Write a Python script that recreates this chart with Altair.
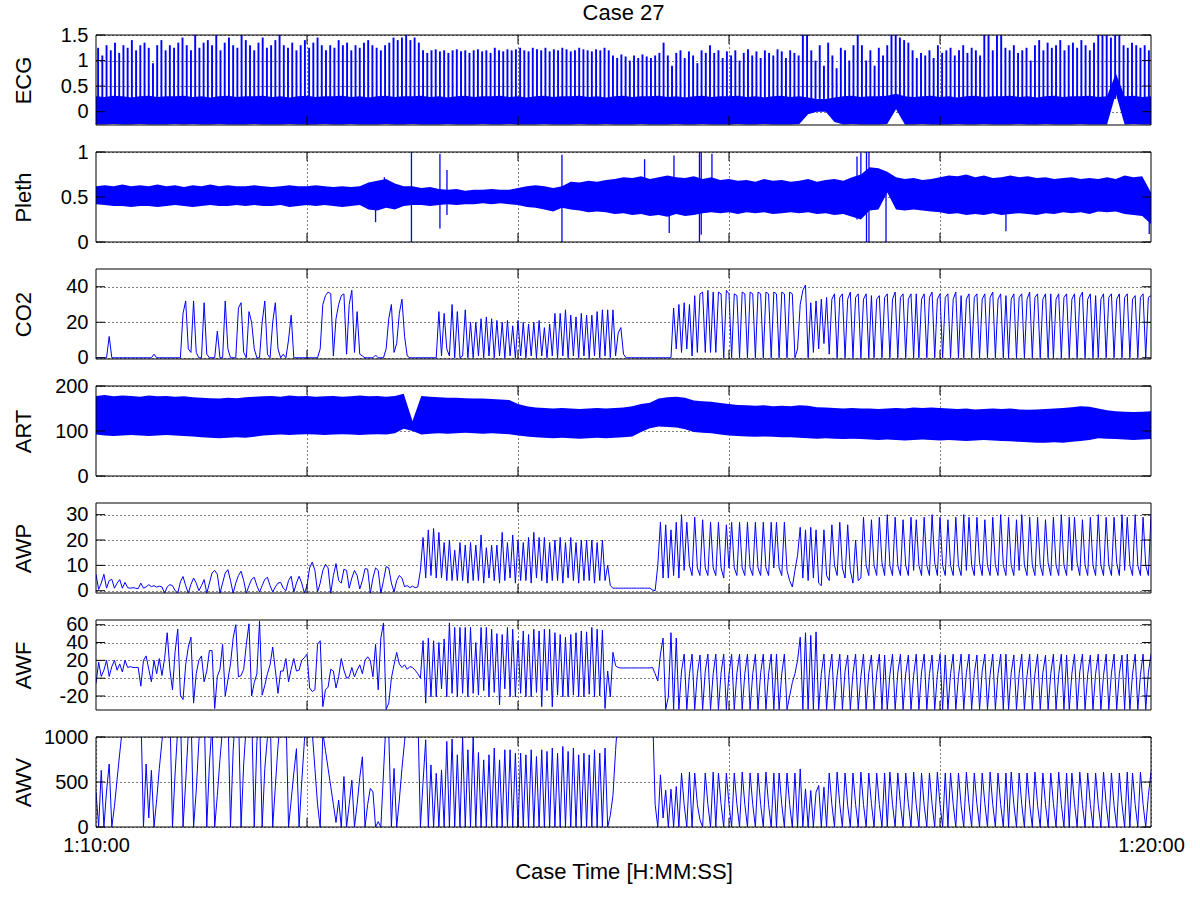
import altair as alt
import pandas as pd

FONT = "Liberation Sans"
BLUE = "#0000ff"
W, H = 1055, 90
T_END = 600
GRID_T = [120, 240, 360, 480]
X_TICKS = [0, 120, 240, 360, 480, 600]

# ---------------- axis limits and tick values ----------------
ECG_DOMAIN, ECG_TICKS = [-0.26, 1.5], [0, 0.5, 1, 1.5]
PLETH_DOMAIN, PLETH_TICKS = [0, 1], [0, 0.5, 1]
CO2_DOMAIN, CO2_TICKS = [-0.7, 50], [0, 20, 40]
ART_DOMAIN, ART_TICKS = [0, 200], [0, 100, 200]
AWP_DOMAIN, AWP_TICKS = [-0.9, 34.6], [0, 10, 20, 30]
AWF_DOMAIN, AWF_TICKS = [-35.7, 65.3], [-20, 0, 20, 40, 60]
AWV_DOMAIN, AWV_TICKS = [0, 1000], [0, 500, 1000]

# ---------------- ECG: body band (every 5 s) and R-peaks ----------------
ECG_LO = [
    -0.25,-0.25,-0.24,-0.25,-0.25,-0.24,-0.25,-0.25,-0.25,-0.24,
    -0.25,-0.24,-0.25,-0.25,-0.24,-0.25,-0.25,-0.25,-0.24,-0.25,
    -0.25,-0.25,-0.24,-0.25,-0.25,-0.25,-0.24,-0.25,-0.25,-0.24,
    -0.25,-0.25,-0.25,-0.24,-0.25,-0.25,-0.24,-0.25,-0.25,-0.25,
    -0.24,-0.25,-0.25,-0.25,-0.24,-0.25,-0.25,-0.24,-0.25,-0.25,
    -0.25,-0.24,-0.25,-0.25,-0.25,-0.24,-0.25,-0.25,-0.24,-0.25,
    -0.25,-0.25,-0.24,-0.25,-0.25,-0.25,-0.24,-0.25,-0.25,-0.24,
    -0.25,-0.25,-0.25,-0.24,-0.25,-0.25,-0.24,-0.25,-0.25,-0.25,
    -0.24,-0.05,0.0,0.0,-0.2,-0.25,-0.24,-0.25,-0.25,-0.25,
    -0.24,0.05,-0.25,-0.25,-0.24,-0.25,-0.25,-0.25,-0.24,-0.25,
    -0.25,-0.24,-0.25,-0.25,-0.25,-0.24,-0.25,-0.25,-0.24,-0.25,
    -0.25,-0.25,-0.24,-0.25,-0.25,-0.25,0.35,-0.25,-0.24,-0.25,
    -0.25]
ECG_HI = [
    0.30,0.29,0.31,0.30,0.28,0.30,0.31,0.29,0.30,0.30,
    0.31,0.29,0.30,0.28,0.30,0.31,0.29,0.30,0.30,0.31,
    0.29,0.30,0.28,0.30,0.31,0.29,0.30,0.30,0.31,0.29,
    0.30,0.28,0.30,0.31,0.29,0.30,0.30,0.31,0.29,0.30,
    0.28,0.30,0.31,0.29,0.30,0.30,0.31,0.29,0.30,0.28,
    0.30,0.31,0.29,0.30,0.30,0.31,0.29,0.30,0.28,0.30,
    0.31,0.29,0.30,0.30,0.31,0.29,0.30,0.28,0.30,0.31,
    0.29,0.30,0.30,0.31,0.29,0.30,0.28,0.30,0.31,0.29,
    0.30,0.28,0.25,0.25,0.28,0.30,0.31,0.29,0.30,0.30,
    0.31,0.35,0.30,0.29,0.30,0.31,0.29,0.30,0.28,0.30,
    0.31,0.29,0.30,0.30,0.31,0.29,0.30,0.28,0.30,0.31,
    0.29,0.30,0.30,0.31,0.29,0.30,0.75,0.30,0.31,0.29,
    0.30]
ECG_PEAKS = [
    1.25,1.1,1.3,1.2,1.35,1.15,1.3,1.25,1.4,1.2,
    1.3,1.35,1.25,0.95,1.3,1.4,1.2,1.3,1.25,1.35,
    1.45,1.3,1.2,1.5,1.25,1.35,1.4,1.3,1.5,1.2,
    1.35,1.45,1.3,1.25,1.5,1.4,1.3,1.2,1.35,1.45,
    1.25,1.3,1.4,1.5,1.3,1.25,1.35,1.2,1.3,1.4,
    1.25,1.35,1.45,1.3,1.2,1.3,1.25,1.4,1.3,1.35,
    1.2,1.3,1.25,1.35,1.4,1.3,1.25,1.2,1.3,1.35,
    1.45,1.4,
    1.45,1.5,1.4,1.45,1.35,
    1.2,1.15,1.2,1.22,1.18,1.2,1.15,1.2,1.22,1.18,1.2,1.15,1.2,1.22,1.18,1.2,1.15,1.25,1.2,1.18,1.22,1.2,
    1.22,1.25,1.2,1.18,1.25,1.22,1.2,1.25,1.18,1.22,1.2,1.25,1.22,1.18,1.2,1.25,1.22,1.2,1.18,1.22,1.2,1.25,1.2,
    1.1,1.05,1.12,1.08,1.0,1.1,1.05,1.12,1.08,1.05,1.1,
    1.15,1.35,1.1,0.9,1.15,1.2,1.05,1.18,1.1,0.95,1.2,1.15,1.3,
    1.15,1.2,1.05,1.18,1.1,1.2,1.0,1.15,1.22,1.1,1.18,1.05,1.2,1.15,1.1,1.22,1.18,1.05,1.2,1.15,1.1,
    1.5,1.5,1.2,1.0,1.3,0.9,
    1.35,1.1,0.85,1.25,1.2,1.0,1.3,
    1.5,
    1.3,1.0,1.2,0.9,1.25,1.1,1.3,
    1.5,1.5,1.45,
    1.4,1.35,
    1.2,1.05,1.15,1.1,1.2,1.05,
    1.3,1.15,1.2,1.25,1.1,1.2,1.3,1.15,1.25,1.2,1.1,
    1.5,1.5,1.2,1.5,1.5,
    1.25,1.2,1.3,1.15,1.2,1.25,
    1.0,1.3,1.4,1.2,1.35,1.25,1.3,1.4,1.2,1.3,1.35,1.25,1.4,1.3,1.2,1.35,
    1.5,1.5,1.5,1.45,1.5,1.5,
    1.3,1.25,1.35,1.3,1.25,1.3,1.2]
ECG_SPIKE_BASE = 0.25

# ---------------- Pleth: band (every 5 s) and isolated spikes ----------------
PL_LO = [
    0.42,0.41,0.40,0.40,0.39,0.40,0.40,0.39,0.40,0.41,
    0.40,0.39,0.40,0.41,0.40,0.40,0.41,0.40,0.41,0.40,
    0.40,0.41,0.39,0.40,0.41,0.40,0.41,0.40,0.39,0.40,
    0.41,0.36,0.35,0.38,0.36,0.40,0.41,0.41,0.40,0.41,
    0.42,0.41,0.42,0.42,0.43,0.42,0.43,0.42,0.41,0.39,
    0.38,0.36,0.34,0.38,0.36,0.35,0.33,0.34,0.33,0.31,
    0.32,0.30,0.31,0.29,0.30,0.28,0.31,0.29,0.30,0.32,
    0.33,0.32,0.33,0.31,0.33,0.32,0.33,0.31,0.32,0.33,
    0.32,0.33,0.31,0.32,0.30,0.31,0.28,0.25,0.35,0.36,
    0.55,0.36,0.35,0.36,0.35,0.34,0.33,0.31,0.32,0.30,
    0.31,0.30,0.32,0.30,0.31,0.32,0.31,0.30,0.32,0.31,
    0.33,0.32,0.33,0.31,0.34,0.33,0.34,0.31,0.30,0.29,
    0.20]
PL_HI = [
    0.62,0.63,0.62,0.64,0.62,0.63,0.62,0.64,0.62,0.63,
    0.61,0.63,0.62,0.64,0.62,0.63,0.62,0.62,0.63,0.62,
    0.61,0.62,0.63,0.62,0.62,0.63,0.62,0.61,0.62,0.61,
    0.62,0.66,0.68,0.70,0.65,0.62,0.62,0.60,0.61,0.59,
    0.58,0.59,0.57,0.58,0.58,0.59,0.58,0.58,0.60,0.62,
    0.63,0.62,0.60,0.62,0.67,0.66,0.68,0.67,0.69,0.70,
    0.72,0.71,0.73,0.70,0.72,0.74,0.72,0.71,0.73,0.70,
    0.72,0.69,0.70,0.68,0.69,0.67,0.70,0.68,0.69,0.67,
    0.68,0.70,0.67,0.69,0.70,0.68,0.72,0.75,0.83,0.82,
    0.78,0.72,0.70,0.71,0.69,0.70,0.72,0.74,0.73,0.75,
    0.72,0.74,0.71,0.72,0.74,0.72,0.73,0.71,0.72,0.70,
    0.71,0.72,0.70,0.71,0.70,0.72,0.70,0.74,0.72,0.73,
    0.55]
PL_SPK_T = [159, 164, 179.4, 195.6, 199.6, 265, 312, 326, 328.7, 343.2, 344.2,
            350.3, 432.8, 435, 438.2, 439.6, 449.3, 517.5, 599]
PL_SPK_LO = [0.22, 0.4, 0.0, 0.15, 0.3, 0.0, 0.4, 0.1, 0.4, 0.0, 0.08,
             0.35, 0.25, 0.35, 0.0, 0.0, 0.0, 0.12, 0.09]
PL_SPK_HI = [0.55, 0.72, 1.0, 0.98, 0.8, 0.97, 0.92, 0.6, 0.96, 1.0, 1.0,
             0.98, 0.95, 0.99, 1.0, 1.0, 0.6, 0.5, 0.4]

# ---------------- CO2 (every 1.5 s) ----------------
CO2 = [
    0,0,0,0,0,12,0,0,0,0,
    0,0,0,0,0,0,0,0,0,0,
    0,0,2,0,0,0,0,0,0,0,
    0,0,0,25,32,5,3,32,3,0,
    0,31,2,0,0,0,15,0,0,32,
    5,0,0,0,28,31,3,0,26,20,
    5,0,0,20,32,2,0,20,31,5,
    0,2,0,10,24,0,0,0,0,0,
    0,0,0,0,0,5,30,35,37,36,
    1,22,30,35,36,2,30,38,3,26,
    2,1,0,0,0,0,1.5,0,0,0,
    5,22,30,3,8,25,33,12,1,0,
    0,0,0,0,0,0,0,0,0,0,
    26,1,25,5,1,30,0,26,0,1,
    27,0,20,0,20,1,22,0,23,1,
    22,0,21,1,20,0,21,1,18,0,
    21,1,20,0,19,1,20,0,21,1,
    17,0,19,1,25,0,25,1,27,0,
    24,1,23,0,25,1,24,0,24,1,
    26,0,27,1,27,0,27,1,14,17,
    2,0,0,0,0,0,0,0,0,0,
    0,0,0,0,0,0,0,0,0,28,
    5,30,3,31,5,30,1,35,3,36,
    37,3,38,3,37,3,37,36,0,38,
    36,0,36,35,0,37,36,0,37,36,
    0,37,36,0,37,36,0,37,36,0,
    37,36,0,37,36,0,5,30,38,41,
    0,31,3,32,5,33,8,34,2,
    33,36,0,34,36,0,33,37,0,34,36,0,33,36,0,35,0,
    33,35,0,34,36,0,33,37,0,34,36,0,33,36,0,36,0,
    33,36,0,34,37,0,33,36,0,34,36,0,33,37,0,35,0,
    33,36,0,34,36,0,33,36,0,34,37,0,33,36,0,35,0,
    33,36,0,34,36,0,33,37,0,34,36,0,33,36,0,36,0,
    33,36,0,34,36,0,33,36,0,34,37,0,33,36,0,35,0,
    33,36,0,34,36,0,33,36,0,34,36,0,33,35,0,34,36,0,34,35]

# ---------------- ART: band (every 5 s) ----------------
ART_LO = [
    92,90,89,90,91,90,89,90,91,90,
    89,88,86,85,84,85,86,85,87,90,
    91,92,91,92,93,92,91,92,93,92,
    91,92,93,92,95,105,100,92,94,95,
    94,95,96,95,94,95,94,93,90,88,
    86,85,84,85,84,83,84,85,84,85,
    86,88,98,106,110,109,108,104,98,96,
    95,92,90,89,88,87,88,87,86,86,
    85,84,83,84,83,82,83,82,81,80,
    81,80,79,80,81,80,79,80,79,78,
    79,80,79,78,77,76,75,74,74,75,
    74,76,78,80,84,83,82,81,80,81,
    82]
ART_HI = [
    178,180,177,179,178,176,179,177,178,176,
    177,175,174,173,172,174,173,175,176,177,
    178,176,179,177,178,176,177,178,176,177,
    179,177,178,176,178,183,122,178,176,175,
    174,174,173,172,172,171,170,169,160,155,
    152,151,150,151,150,149,150,151,150,151,
    152,155,160,163,172,175,176,174,168,166,
    165,162,160,158,157,156,157,155,156,155,
    157,156,153,152,151,150,151,150,150,149,
    150,151,150,152,151,152,151,150,149,150,
    148,149,150,149,150,148,147,148,149,150,
    151,153,155,154,150,146,144,143,142,143,
    144]

# ---------------- AWP (every 1.5 s) ----------------
AWP = [
    6.5,0.5,3,6.5,1,4,4.5,1,3,4.4,
    1,3.3,1.2,1,1.2,1,0.8,3,1,1.5,
    2.4,1.6,2,1.4,1.8,1.5,-1,1.5,2.4,2,
    0,-1,3.5,5.6,2,-1,2.5,5,3,0,
    2,4.4,-1,3,7,8,6.5,-1,3,7,
    8.3,4,-1,3,6,7.7,4,-1,2,4.5,
    5.3,2,-0.5,2,4.5,5.3,2,-0.5,1.5,3,
    3.3,1,0,4,5.7,-0.5,3,5.7,3,-1,
    2,9,11.3,8,-0.5,3,8,10.4,9,-1,
    6,10.7,4,3,8.5,8,1,5,8,6,
    0.7,4,8.7,8.5,-1,5,9,8,-1,4,
    9.5,9,3,-0.5,4,6,5,1.6,2,1.2,
    1.8,1.2,1.5,8,
    21,5,24,6,24.5,5,23,5,19,4,
    20,4,16,4,19,4,18,3,19,4,
    18,4,22,3,17,5,18,4,18,3,
    23,4,19,5,22,3,20,4,19,4,
    21,3,23,5,21,4,21,3,19,4,
    20,4,21,3,19,5,21,4,19,3,
    20,4,20,4,20,3,19,4,20,4,
    10,2,1,1,1,1,1,1,1,1,
    1,1,1,1,1,1,1,0.3,0,10,
    27,5,26,5,24,6,27,5,30,8,
    27,10,6,29,9,6,28,9,6,27,
    9,6,27,9,5,26,9,27,9,6,
    27,9,6,27,9,6,27,9,6,27,
    9,6,27,9,27,9,6,27,8,4,
    1.5,8,14,25,5,24,4,25,5,24,
    3,2,24,6,4,26,10,6,27,9,
    5,26,8,3,20,4,5,
    29,10,6,28,10,6,29,11,6,30,10,6,29,10,6,28,10,6,29,8,
    28,10,6,29,10,6,30,11,6,29,10,6,28,10,6,29,10,6,30,8,
    29,10,6,29,11,6,28,10,6,29,10,6,30,10,6,29,10,6,28,8,
    30,10,6,29,10,6,29,10,6,28,11,6,29,10,6,30,10,6,29,8,
    29,11,6,28,10,6,29,10,6,30,10,6,29,10,6,29,11,6,30,8,
    29,10,6,30,10,6,29,10,6,
    30]

# ---------------- AWF (every 1.5 s) ----------------
AWF = [
    -6,18,2,9,20,2,13,20,9,16,
    7,20,12,13,12,12,12,-9,20,25,
    10,-4,20,5,22,3,22,51,10,-13,
    30,55,-19,-24,15,35,46,-28,5,20,
    25,-4,8,31,31,-34,2,10,38,-20,
    -2,16,45,60,1.5,3,10,38,61,-20,
    -5,5,64,-19,-8,5,15,35,9,-17,
    8,8,22,-4,10,22,8,9,20,23,
    27,-11,-15,-13,38,42,-32,-13,-10,10,
    8,-11,1.5,22,9,0,1.5,12,1.5,9,
    15,5,20,24,20,1.5,38,-13,45,62,
    -35,-28,0,15,29,16,12,15,10,13,
    12,9,5,0,
    42,-28,45,-21,42,-21,40,-12,44,-21,
    62,-17,57,-21,57,-17,57,-21,57,-17,
    40,-19,57,-14,57,-21,55,-16,50,-30,
    49,-12,57,-21,55,-21,42,-17,53,-21,
    49,-21,55,-16,53,-32,55,-14,55,-32,
    51,-19,49,-21,46,-21,49,-19,51,-21,
    53,-21,52,-18,57,-21,55,-20,54,-34,
    8,-21,29,14,12,11.5,11.5,11.5,11.5,11.5,
    11.5,11.5,11.5,11.5,11.5,11.5,11.5,12,5,-3,
    27,45,-35,-21,51,-35,45,-35,8,27,
    -35,5,27,-35,5,26,-35,8,27,-35,
    5,27,-35,6,27,-35,5,27,-35,6,
    27,-35,5,27,-35,5,27,-35,6,27,
    -35,5,27,-35,27,-35,5,27,-35,-20,
    -5,5,20,46,-35,51,-35,48,-35,52,
    -35,5,27,
    -35,5,27,-35,3,27,-35,8,26,-35,5,27,-35,2,27,-35,6,26,-35,5,27,-35,26,
    -35,4,27,-35,6,27,-35,5,26,-35,3,27,-35,7,27,-35,5,26,-35,4,27,-35,26,
    -35,5,27,-35,2,27,-35,6,27,-35,5,26,-35,8,27,-35,4,27,-35,5,27,-35,27,
    -35,6,26,-35,5,27,-35,3,27,-35,5,27,-35,6,26,-35,5,27,-35,4,27,-35,26,
    -35,5,27,-35,7,27,-35,4,26,-35,5,27,-35,3,27,-35,6,27,-35,5,26,-35,27,
    -35,5,27,-35,4,27,-35,6,27]

# ---------------- AWV (every 1.5 s) ----------------
AWV = [
    390,0,630,0,400,700,0,230,530,820,
    1100,1300,1300,1300,1300,1300,1300,1300,0,700,
    100,630,0,300,650,950,1250,1300,1300,0,
    600,1100,1300,0,500,1050,1300,0,400,950,
    1300,1300,0,700,1150,0,350,750,1100,1300,
    1300,0,850,1300,1300,0,700,1150,1300,1300,
    0,950,1300,0,650,1000,1300,0,450,900,
    1200,1300,1300,0,300,600,870,0,500,950,
    1300,1300,1050,650,250,0,1050,850,650,450,
    250,50,300,0,560,0,250,520,0,250,
    550,780,0,250,430,390,0,60,0,600,
    1200,1050,0,650,0,300,650,950,1300,1300,
    1300,1300,1300,0,500,
    970,0,690,0,597,0,634,0,951,0,978,0,802,0,1000,0,858,0,1000,0,
    828,0,746,0,802,0,877,0,746,0,858,0,858,0,820,0,820,0,802,0,
    858,0,783,0,858,0,840,0,877,0,820,0,895,0,840,0,877,0,802,0,
    820,0,802,0,858,0,820,0,877,
    0,130,350,850,1300,1300,1300,1300,1300,1300,1300,1300,1300,1300,1300,1300,1300,1300,
    250,0,580,100,410,0,420,0,450,0,
    600,250,0,610,0,600,250,80,0,600,250,0,610,0,600,250,0,600,250,0,
    600,250,0,610,250,0,600,250,0,600,250,0,610,250,0,600,0,600,250,0,
    600,250,0,600,0,
    645,0,424,0,406,0,387,461,0,443,
    0,600,250,0,610,250,0,600,240,0,600,250,0,610,250,0,600,260,0,600,250,0,600,
    0,610,250,0,600,250,0,600,260,0,610,250,0,600,240,0,600,250,0,610,250,0,600,
    0,600,250,0,600,240,0,610,250,0,600,250,0,600,260,0,610,250,0,600,250,0,600,
    0,610,250,0,600,250,0,600,250,0,610,240,0,600,250,0,600,260,0,610,250,0,600,
    0,600,260,0,610,250,0,600,250,0,600,250,0,610,250,0,600,240,0,600,250,0,610,
    0,600,250,0,610,250,0,350,610]


# ---------------- helpers ----------------
def series(values):
    n = len(values)
    step = T_END / (n - 1)
    return pd.DataFrame({"t": [i * step for i in range(n)], "v": values})


def band(lo, hi):
    n = len(lo)
    step = T_END / (n - 1)
    return pd.DataFrame({"t": [i * step for i in range(n)], "v": lo, "v2": hi})


def x_enc(bottom):
    if bottom:
        ax = alt.Axis(values=X_TICKS, grid=True, ticks=False, domain=False,
                      labelExpr="datum.value == 0 ? '1:10:00' : (datum.value == 600 ? '1:20:00' : '')",
                      labelFlush=False, labelOverlap=False, labelPadding=8,
                      title="Case Time [H:MM:SS]", titlePadding=6)
    else:
        ax = alt.Axis(values=GRID_T, grid=True, ticks=False, domain=False,
                      labels=False, title=None)
    return alt.X("t:Q", scale=alt.Scale(domain=[0, T_END], nice=False, zero=False), axis=ax)


def y_enc(dom, ticks, title):
    return alt.Y("v:Q", scale=alt.Scale(domain=dom, nice=False, zero=False),
                 axis=alt.Axis(values=ticks, grid=True, ticks=False, domain=False,
                               labelExpr="toString(datum.value)", labelPadding=8,
                               labelOverlap=False, labelBound=False,
                               title=title, titleX=-73, titleY=H / 2, titleAngle=270,
                               titleAlign="center", titleBaseline="middle"))


def decorations(xe, ye, ticks):
    yt = pd.DataFrame({"v": ticks})
    xt = pd.DataFrame({"t": GRID_T})
    return [
        alt.Chart(yt).mark_rule(color="black", strokeWidth=1).encode(
            y=ye, x=alt.value(0), x2=alt.value(9)),
        alt.Chart(yt).mark_rule(color="black", strokeWidth=1).encode(
            y=ye, x=alt.value(W - 9), x2=alt.value(W)),
        alt.Chart(xt).mark_rule(color="black", strokeWidth=1).encode(
            x=xe, y=alt.value(0), y2=alt.value(9)),
        alt.Chart(xt).mark_rule(color="black", strokeWidth=1).encode(
            x=xe, y=alt.value(H - 9), y2=alt.value(H)),
        alt.Chart(pd.DataFrame({"k": [0]})).mark_rect(
            fillOpacity=0, stroke="black", strokeWidth=1).encode(
            x=alt.value(0), x2=alt.value(W), y=alt.value(0), y2=alt.value(H)),
    ]


def line_panel(values, dom, ticks, title, bottom=False):
    xe, ye = x_enc(bottom), y_enc(dom, ticks, title)
    main = alt.Chart(series(values)).mark_line(color=BLUE, strokeWidth=1, clip=True).encode(x=xe, y=ye)
    return alt.layer(main, *decorations(xe, ye, ticks)).properties(width=W, height=H)


# ECG panel
xe, ye = x_enc(False), y_enc(ECG_DOMAIN, ECG_TICKS, "ECG")
ecg_band = alt.Chart(band(ECG_LO, ECG_HI)).mark_area(color=BLUE, opacity=1, clip=True).encode(
    x=xe, y=ye, y2=alt.Y2("v2:Q"))
n_pk = len(ECG_PEAKS)
ecg_spk_df = pd.DataFrame({
    "t": [(i + 0.5) * T_END / n_pk for i in range(n_pk)],
    "v": [ECG_SPIKE_BASE] * n_pk,
    "v2": ECG_PEAKS,
})
ecg_spikes = alt.Chart(ecg_spk_df).mark_rule(color=BLUE, strokeWidth=1.9, clip=True).encode(
    x=xe, y=ye, y2=alt.Y2("v2:Q"))
ecg = alt.layer(ecg_band, ecg_spikes, *decorations(xe, ye, ECG_TICKS)).properties(
    width=W, height=H,
    title=alt.TitleParams("Case 27", font=FONT, fontSize=22, fontWeight="normal",
                          color="black", anchor="middle", frame="group", offset=0))

# Pleth panel
xe, ye = x_enc(False), y_enc(PLETH_DOMAIN, PLETH_TICKS, "Pleth")
pl_band = alt.Chart(band(PL_LO, PL_HI)).mark_area(color=BLUE, opacity=1, clip=True).encode(
    x=xe, y=ye, y2=alt.Y2("v2:Q"))
pl_spk = alt.Chart(pd.DataFrame({"t": PL_SPK_T, "v": PL_SPK_LO, "v2": PL_SPK_HI})).mark_rule(
    color=BLUE, strokeWidth=1.3, clip=True).encode(x=xe, y=ye, y2=alt.Y2("v2:Q"))
pleth = alt.layer(pl_band, pl_spk, *decorations(xe, ye, PLETH_TICKS)).properties(width=W, height=H)

co2 = line_panel(CO2, CO2_DOMAIN, CO2_TICKS, "CO2")

xe, ye = x_enc(False), y_enc(ART_DOMAIN, ART_TICKS, "ART")
art_band = alt.Chart(band(ART_LO, ART_HI)).mark_area(color=BLUE, opacity=1, clip=True).encode(
    x=xe, y=ye, y2=alt.Y2("v2:Q"))
art = alt.layer(art_band, *decorations(xe, ye, ART_TICKS)).properties(width=W, height=H)

awp = line_panel(AWP, AWP_DOMAIN, AWP_TICKS, "AWP")
awf = line_panel(AWF, AWF_DOMAIN, AWF_TICKS, "AWF")
awv = line_panel(AWV, AWV_DOMAIN, AWV_TICKS, "AWV", bottom=True)

chart = alt.vconcat(ecg, pleth, co2, art, awp, awf, awv, spacing=27, bounds="flush").properties(
    padding={"left": 12, "top": 2, "right": 5, "bottom": 5}
).configure_view(strokeWidth=0).configure_axis(
    labelFont=FONT, labelFontSize=20, labelColor="black", labelOverlap=False,
    titleFont=FONT, titleFontSize=22, titleFontWeight="normal", titleColor="black",
    gridColor="black", gridDash=[1, 3], gridOpacity=1, gridWidth=1,
).configure_title(font=FONT)

chart.save("out.html", embed_options={"renderer": "svg", "actions": False})
